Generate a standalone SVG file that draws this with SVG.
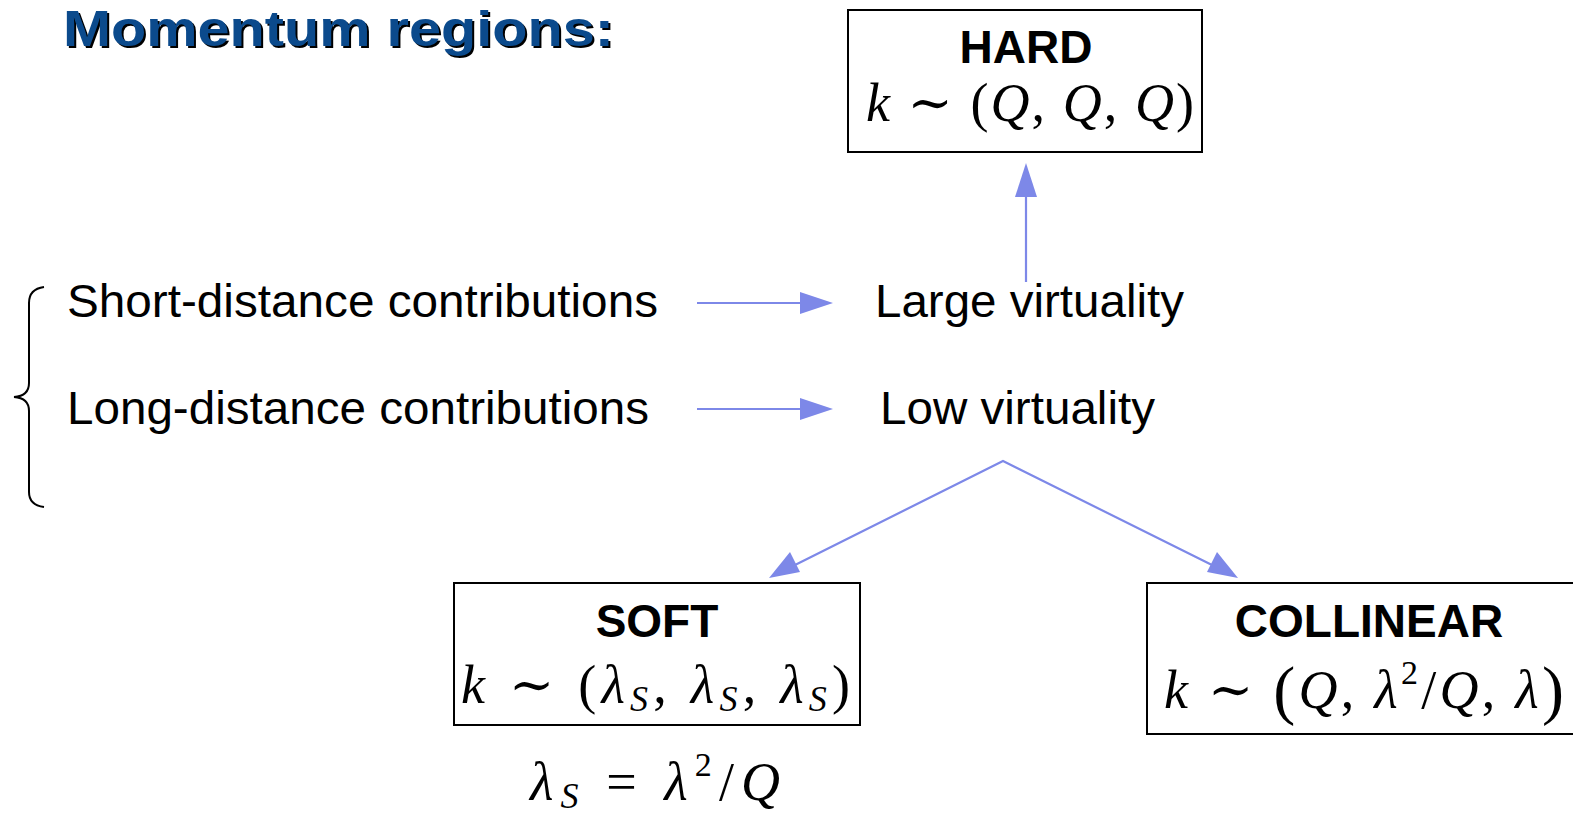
<svg xmlns="http://www.w3.org/2000/svg" width="1573" height="815" viewBox="0 0 1573 815">
<style>
.box{fill:#fff;stroke:#000;stroke-width:2}
.lbl{font-family:"Liberation Sans",Arial,sans-serif;font-size:47px;fill:#000}
.ttl{font-family:"Liberation Sans",Arial,sans-serif;font-size:46px;font-weight:bold;fill:#000}
.math{font-family:"Liberation Serif","DejaVu Serif",serif;font-size:54px;fill:#000}
.it{font-style:italic}
.sub{font-size:36px;font-style:italic}
.conn{stroke:#7d88e8;stroke-width:2.2;fill:none}
.head{fill:#7d88e8}
</style>
<rect width="1573" height="815" fill="#fff"/>
<g id="title">
<text x="65" y="48" font-family="Liberation Sans, Arial, sans-serif" font-weight="bold" font-size="50" fill="#000" textLength="551" lengthAdjust="spacingAndGlyphs">Momentum regions:</text>
<text x="63" y="46" font-family="Liberation Sans, Arial, sans-serif" font-weight="bold" font-size="50" fill="#0b4a8c" textLength="551" lengthAdjust="spacingAndGlyphs">Momentum regions:</text>
</g>
<g id="brace">
<path d="M44 287 Q29 289 29 303 L29 383 Q29 396 14 397 Q29 398 29 411 L29 492 Q29 505 44 507" fill="none" stroke="#000" stroke-width="2"/>
</g>
<g id="short"><text class="lbl" x="67" y="317" textLength="591" lengthAdjust="spacingAndGlyphs">Short-distance contributions</text></g>
<g id="long"><text class="lbl" x="67" y="424" textLength="582" lengthAdjust="spacingAndGlyphs">Long-distance contributions</text></g>
<g id="large"><text class="lbl" x="875" y="317" textLength="309" lengthAdjust="spacingAndGlyphs">Large virtuality</text></g>
<g id="low"><text class="lbl" x="880" y="424" textLength="275" lengthAdjust="spacingAndGlyphs">Low virtuality</text></g>
<g id="hard">
<rect class="box" x="848" y="10" width="354" height="142"/>
<text class="ttl" x="1026" y="63" text-anchor="middle">HARD</text>
<text class="math" x="866" y="121" textLength="328" lengthAdjust="spacing"><tspan class="it">k</tspan> ∼ (<tspan class="it">Q</tspan>, <tspan class="it">Q</tspan>, <tspan class="it">Q</tspan>)</text>
</g>
<g id="soft">
<rect class="box" x="454" y="583" width="406" height="142"/>
<text class="ttl" x="657" y="637" text-anchor="middle">SOFT</text>
<text class="math" x="461" y="703" textLength="389" lengthAdjust="spacing"><tspan class="it">k</tspan> ∼ (<tspan class="it">λ</tspan><tspan class="sub" dy="8">S</tspan><tspan dy="-8">,</tspan> <tspan class="it">λ</tspan><tspan class="sub" dy="8">S</tspan><tspan dy="-8">,</tspan> <tspan class="it">λ</tspan><tspan class="sub" dy="8">S</tspan><tspan dy="-8">)</tspan></text>
<text class="math" x="530" y="800" textLength="250" lengthAdjust="spacing"><tspan class="it">λ</tspan><tspan class="sub" dy="8">S</tspan><tspan dy="-8"> = </tspan><tspan class="it">λ</tspan><tspan font-size="34" dy="-24">2</tspan><tspan dy="24">/</tspan><tspan class="it">Q</tspan></text>
</g>
<g id="collinear">
<rect class="box" x="1147" y="583" width="440" height="151"/>
<text class="ttl" x="1369" y="637" text-anchor="middle">COLLINEAR</text>
<text class="math" x="1164" y="708" textLength="400" lengthAdjust="spacing"><tspan class="it">k</tspan> ∼ <tspan font-size="66" dy="4">(</tspan><tspan class="it" dy="-4">Q</tspan>, <tspan class="it">λ</tspan><tspan font-size="34" dy="-24">2</tspan><tspan dy="24">/</tspan><tspan class="it">Q</tspan>, <tspan class="it">λ</tspan><tspan font-size="66" dy="4">)</tspan></text>
</g>
<g id="connectors">
<line class="conn" x1="697" y1="303" x2="802" y2="303"/>
<polygon class="head" points="833,303 800,292 800,314"/>
<line class="conn" x1="697" y1="409" x2="802" y2="409"/>
<polygon class="head" points="833,409 800,398 800,420"/>
<line class="conn" x1="1026" y1="282" x2="1026" y2="195"/>
<polygon class="head" points="1026,163 1015,197 1037,197"/>
<polyline class="conn" points="795,565 1003,461 1212,565"/>
<polygon class="head" points="769,578 790,552 800,572"/>
<polygon class="head" points="1238,578 1207,572 1217,552"/>
</g>
</svg>
